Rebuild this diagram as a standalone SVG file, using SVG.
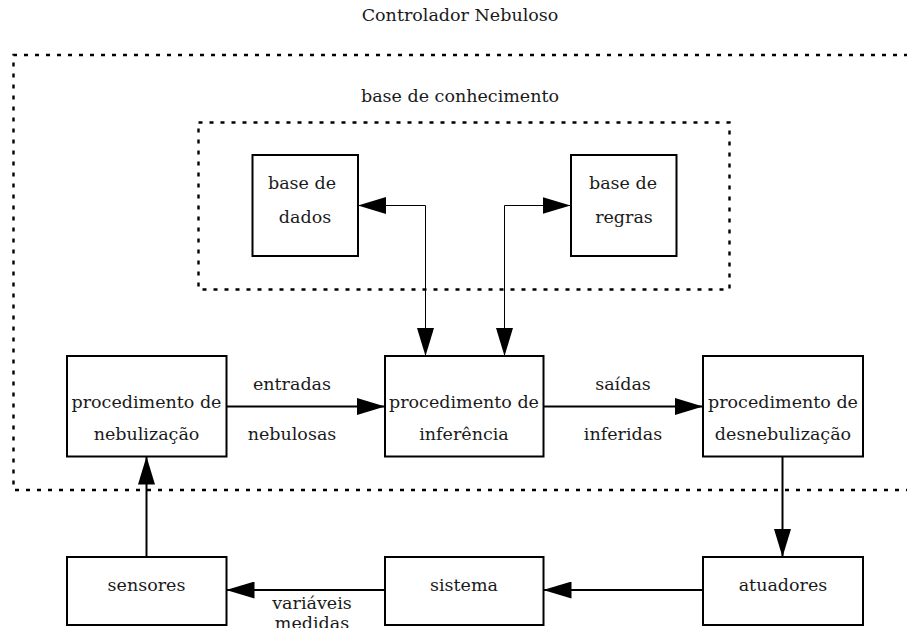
<svg xmlns="http://www.w3.org/2000/svg" width="907" height="628" viewBox="0 0 907 628">
<style>
  text { font-family: "DejaVu Serif", "Liberation Serif", serif; font-size: 17.5px; fill: #1a1a1a; text-anchor: middle; }
  .box { fill: #fff; stroke: #000; stroke-width: 2; }
  .dot { fill: none; stroke: #000; stroke-width: 2.4; stroke-dasharray: 4 7; }
  .thick { fill: none; stroke: #000; stroke-width: 2; }
  .thin { fill: none; stroke: #000; stroke-width: 1; }
</style>
<defs>
  <marker id="ah" markerUnits="userSpaceOnUse" markerWidth="28" markerHeight="17" refX="28" refY="8.5" orient="auto-start-reverse">
    <path d="M0,0 L28,8.5 L0,17 Z" fill="#000"/>
  </marker>
</defs>
<rect fill="#fff" x="0" y="0" width="907" height="628"/>

<text x="460" y="21">Controlador Nebuloso</text>
<path class="dot" d="M930,55 H13.5 V490 H930"/>

<g id="base-conhecimento">
  <text x="460" y="102">base de conhecimento</text>
  <rect class="dot" x="198.5" y="122.5" width="531" height="167"/>
</g>

<g id="connectors">
  <path class="thick" d="M226.5,406.5 H385" marker-end="url(#ah)"/>
  <path class="thick" d="M543.5,406.5 H703" marker-end="url(#ah)"/>
  <path class="thick" d="M782.5,456.5 V557" marker-end="url(#ah)"/>
  <path class="thick" d="M703,590 H543.5" marker-end="url(#ah)"/>
  <path class="thick" d="M385,590 H226.5" marker-end="url(#ah)"/>
  <path class="thick" d="M146.5,557 V456.5" marker-end="url(#ah)"/>
  <path class="thin" d="M358,205.5 H425.5 V356" marker-start="url(#ah)" marker-end="url(#ah)"/>
  <path class="thin" d="M504.5,356 V205.5 H570.5" marker-start="url(#ah)" marker-end="url(#ah)"/>
  <text x="292" y="390">entradas</text>
  <text x="292" y="440">nebulosas</text>
  <text x="623" y="390">saídas</text>
  <text x="623" y="440">inferidas</text>
  <text x="312" y="609">variáveis</text>
  <text x="312" y="629">medidas</text>
</g>

<g id="base-dados">
  <rect class="box" x="252.5" y="155" width="105.5" height="101"/>
  <text x="302" y="189">base de</text>
  <text x="305" y="223">dados</text>
</g>
<g id="base-regras">
  <rect class="box" x="571" y="155" width="105.5" height="101"/>
  <text x="623" y="189">base de</text>
  <text x="624" y="223">regras</text>
</g>
<g id="nebulizacao">
  <rect class="box" x="67" y="356" width="159.5" height="100.5"/>
  <text x="146.5" y="408">procedimento de</text>
  <text x="146.5" y="440">nebulização</text>
</g>
<g id="inferencia">
  <rect class="box" x="385" y="356" width="158.5" height="100.5"/>
  <text x="464" y="408">procedimento de</text>
  <text x="464" y="440">inferência</text>
</g>
<g id="desnebulizacao">
  <rect class="box" x="703" y="356" width="160" height="100.5"/>
  <text x="783" y="408">procedimento de</text>
  <text x="783" y="440">desnebulização</text>
</g>
<g id="sensores">
  <rect class="box" x="67" y="557" width="159.5" height="68"/>
  <text x="146.5" y="591">sensores</text>
</g>
<g id="sistema">
  <rect class="box" x="385" y="557" width="158.5" height="68"/>
  <text x="464" y="591">sistema</text>
</g>
<g id="atuadores">
  <rect class="box" x="703" y="557" width="160" height="68"/>
  <text x="783" y="591">atuadores</text>
</g>
</svg>
